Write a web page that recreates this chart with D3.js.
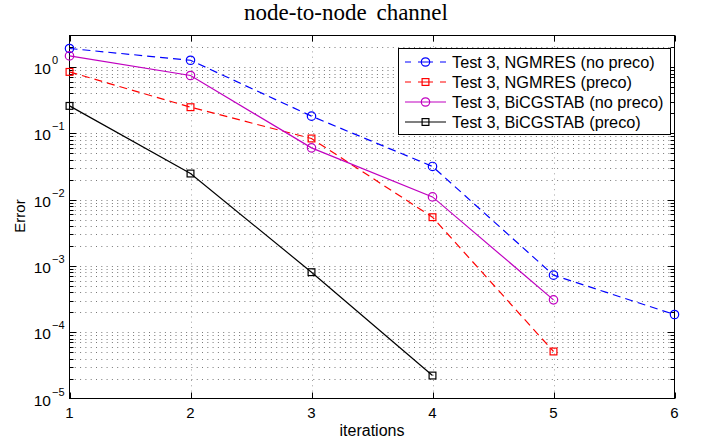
<!DOCTYPE html>
<html>
<head>
<meta charset="utf-8">
<script src="https://cdn.jsdelivr.net/npm/d3@7"></script>
<style>
  body { margin: 0; background: #fff; }
  text { font-family: "Liberation Sans", Arial, Helvetica, sans-serif; fill: #000; }
</style>
</head>
<body>
<svg id="chart" width="701" height="442"></svg>
<script>
// Residual error per iteration for the node-to-node channel test case
const iterations = [1, 2, 3, 4, 5, 6];
const ngmresNoPreco = [1.91, 1.27, 0.182, 0.0317, 7.26e-4, 1.85e-4];
const ngmresPreco = [0.847, 0.2485, 0.0838, 5.44e-3, 5.12e-5];
const bicgstabNoPreco = [1.476, 0.747, 0.0605, 0.01101, 3.08e-4];
const bicgstabPreco = [0.260, 0.0248, 8.05e-4, 2.22e-5];

const seriesLabels = [
  "Test 3, NGMRES (no preco)",
  "Test 3, NGMRES (preco)",
  "Test 3, BiCGSTAB (no preco)",
  "Test 3, BiCGSTAB (preco)"
];
const xTicks = [1, 2, 3, 4, 5, 6];
const yExponents = [-5, -4, -3, -2, -1, 0];

const titleText = "node-to-node channel";
const xLabel = "iterations";
const yLabel = "Error";

const series = [
  { name: seriesLabels[0], values: ngmresNoPreco, color: "#0000ff", dash: "8,5", marker: "circle" },
  { name: seriesLabels[1], values: ngmresPreco, color: "#ff0000", dash: "8,5", marker: "square" },
  { name: seriesLabels[2], values: bicgstabNoPreco, color: "#c000c0", dash: null, marker: "circle" },
  { name: seriesLabels[3], values: bicgstabPreco, color: "#000000", dash: null, marker: "square" }
];

const svg = d3.select("#chart");
const plotLeft = 69.5, plotRight = 674.5, plotTop = 35.5, plotBottom = 398.5;

const x = d3.scaleLinear().domain([1, 6]).range([plotLeft, plotRight]);
const y = d3.scaleLog().domain([1e-5, 3]).range([plotBottom, plotTop]);

// Grid: dotted lines at every decade and every minor step inside a decade
const gridG = svg.append("g").attr("stroke", "#555").attr("stroke-width", 0.8)
  .attr("stroke-dasharray", "1,4.3");
const minorVals = [];
for (let k = -5; k <= 0; k++) {
  for (let m = 1; m <= 9; m++) {
    const v = m * Math.pow(10, k);
    if (v > 1e-5 && v < 3) minorVals.push({ v, major: m === 1 });
  }
}
minorVals.forEach(d => {
  const yy = Math.round(y(d.v)) + 0.5;
  gridG.append("line").attr("x1", plotLeft).attr("x2", plotRight).attr("y1", yy).attr("y2", yy);
});
xTicks.filter(t => t > 1 && t < 6).forEach(t => {
  const xx = Math.round(x(t)) + 0.5;
  gridG.append("line").attr("x1", xx).attr("x2", xx).attr("y1", plotTop).attr("y2", plotBottom)
    .attr("stroke", "#888");
});

// Tick marks on all four sides
const tickG = svg.append("g").attr("stroke", "#000").attr("stroke-width", 1);
minorVals.forEach(d => {
  const yy = Math.round(y(d.v)) + 0.5;
  const len = d.major ? 7 : 4;
  tickG.append("line").attr("x1", plotLeft).attr("x2", plotLeft + len).attr("y1", yy).attr("y2", yy);
  tickG.append("line").attr("x1", plotRight - len).attr("x2", plotRight).attr("y1", yy).attr("y2", yy);
});
xTicks.forEach(t => {
  const xx = Math.round(x(t)) + 0.5;
  tickG.append("line").attr("x1", xx).attr("x2", xx).attr("y1", plotBottom).attr("y2", plotBottom - 6);
  tickG.append("line").attr("x1", xx).attr("x2", xx).attr("y1", plotTop).attr("y2", plotTop + 6);
});

// Axes box
svg.append("rect").attr("x", plotLeft).attr("y", plotTop)
  .attr("width", plotRight - plotLeft).attr("height", plotBottom - plotTop)
  .attr("fill", "none").attr("stroke", "#000").attr("stroke-width", 1);

// Tick labels
xTicks.forEach(t => {
  svg.append("text").attr("x", x(t)).attr("y", 418).attr("text-anchor", "middle")
    .attr("font-size", 15).text(t);
});
yExponents.forEach(k => {
  const yy = y(Math.pow(10, k));
  svg.append("text").attr("x", 51).attr("y", yy + 7).attr("text-anchor", "end")
    .attr("font-size", 15.5).text("10");
  svg.append("text").attr("x", 52).attr("y", yy - 3).attr("text-anchor", "start")
    .attr("font-size", 11).text(k === 0 ? "0" : "\u2212" + Math.abs(k));
});

// Axis titles and chart title
svg.append("text").attr("x", (plotLeft + plotRight) / 2).attr("y", 435.5).attr("text-anchor", "middle")
  .attr("font-size", 16).text(xLabel);
svg.append("text").attr("transform", "translate(25,216) rotate(-90)").attr("text-anchor", "middle")
  .attr("font-size", 15).text(yLabel);
svg.append("text").attr("x", 346).attr("y", 20).attr("text-anchor", "middle")
  .attr("font-size", 23).attr("word-spacing", 4)
  .style("font-family", "'Liberation Serif', 'Times New Roman', serif").text(titleText);

// Data lines and markers
const line = d3.line().x((d, i) => x(iterations[i])).y(d => y(d));
function drawMarker(g, type, cx, cy, color) {
  if (type === "circle") {
    g.append("circle").attr("cx", cx).attr("cy", cy).attr("r", 4.2)
      .attr("fill", "none").attr("stroke", color).attr("stroke-width", 1.2);
  } else {
    g.append("rect").attr("x", cx - 3.4).attr("y", cy - 3.4).attr("width", 6.8).attr("height", 6.8)
      .attr("fill", "none").attr("stroke", color).attr("stroke-width", 1.2);
  }
}
series.forEach(s => {
  const g = svg.append("g");
  g.append("path").attr("d", line(s.values)).attr("fill", "none")
    .attr("stroke", s.color).attr("stroke-width", 1.2)
    .attr("stroke-dasharray", s.dash);
  s.values.forEach((v, i) => drawMarker(g, s.marker, x(iterations[i]), y(v), s.color));
});

// Legend
const lg = svg.append("g");
lg.append("rect").attr("x", 398.5).attr("y", 48.5).attr("width", 272).attr("height", 86)
  .attr("fill", "#fff").attr("stroke", "#000").attr("stroke-width", 1);
series.forEach((s, i) => {
  const yy = 62 + i * 20;
  lg.append("line").attr("x1", 405).attr("x2", 446).attr("y1", yy).attr("y2", yy)
    .attr("stroke", s.color).attr("stroke-width", 1.2)
    .attr("stroke-dasharray", s.dash ? "6,7,15,7,6" : null);
  drawMarker(lg, s.marker, 425.5, yy, s.color);
  lg.append("text").attr("x", 452).attr("y", yy + 6).attr("font-size", 16.3).text(s.name);
});
</script>
</body>
</html>
